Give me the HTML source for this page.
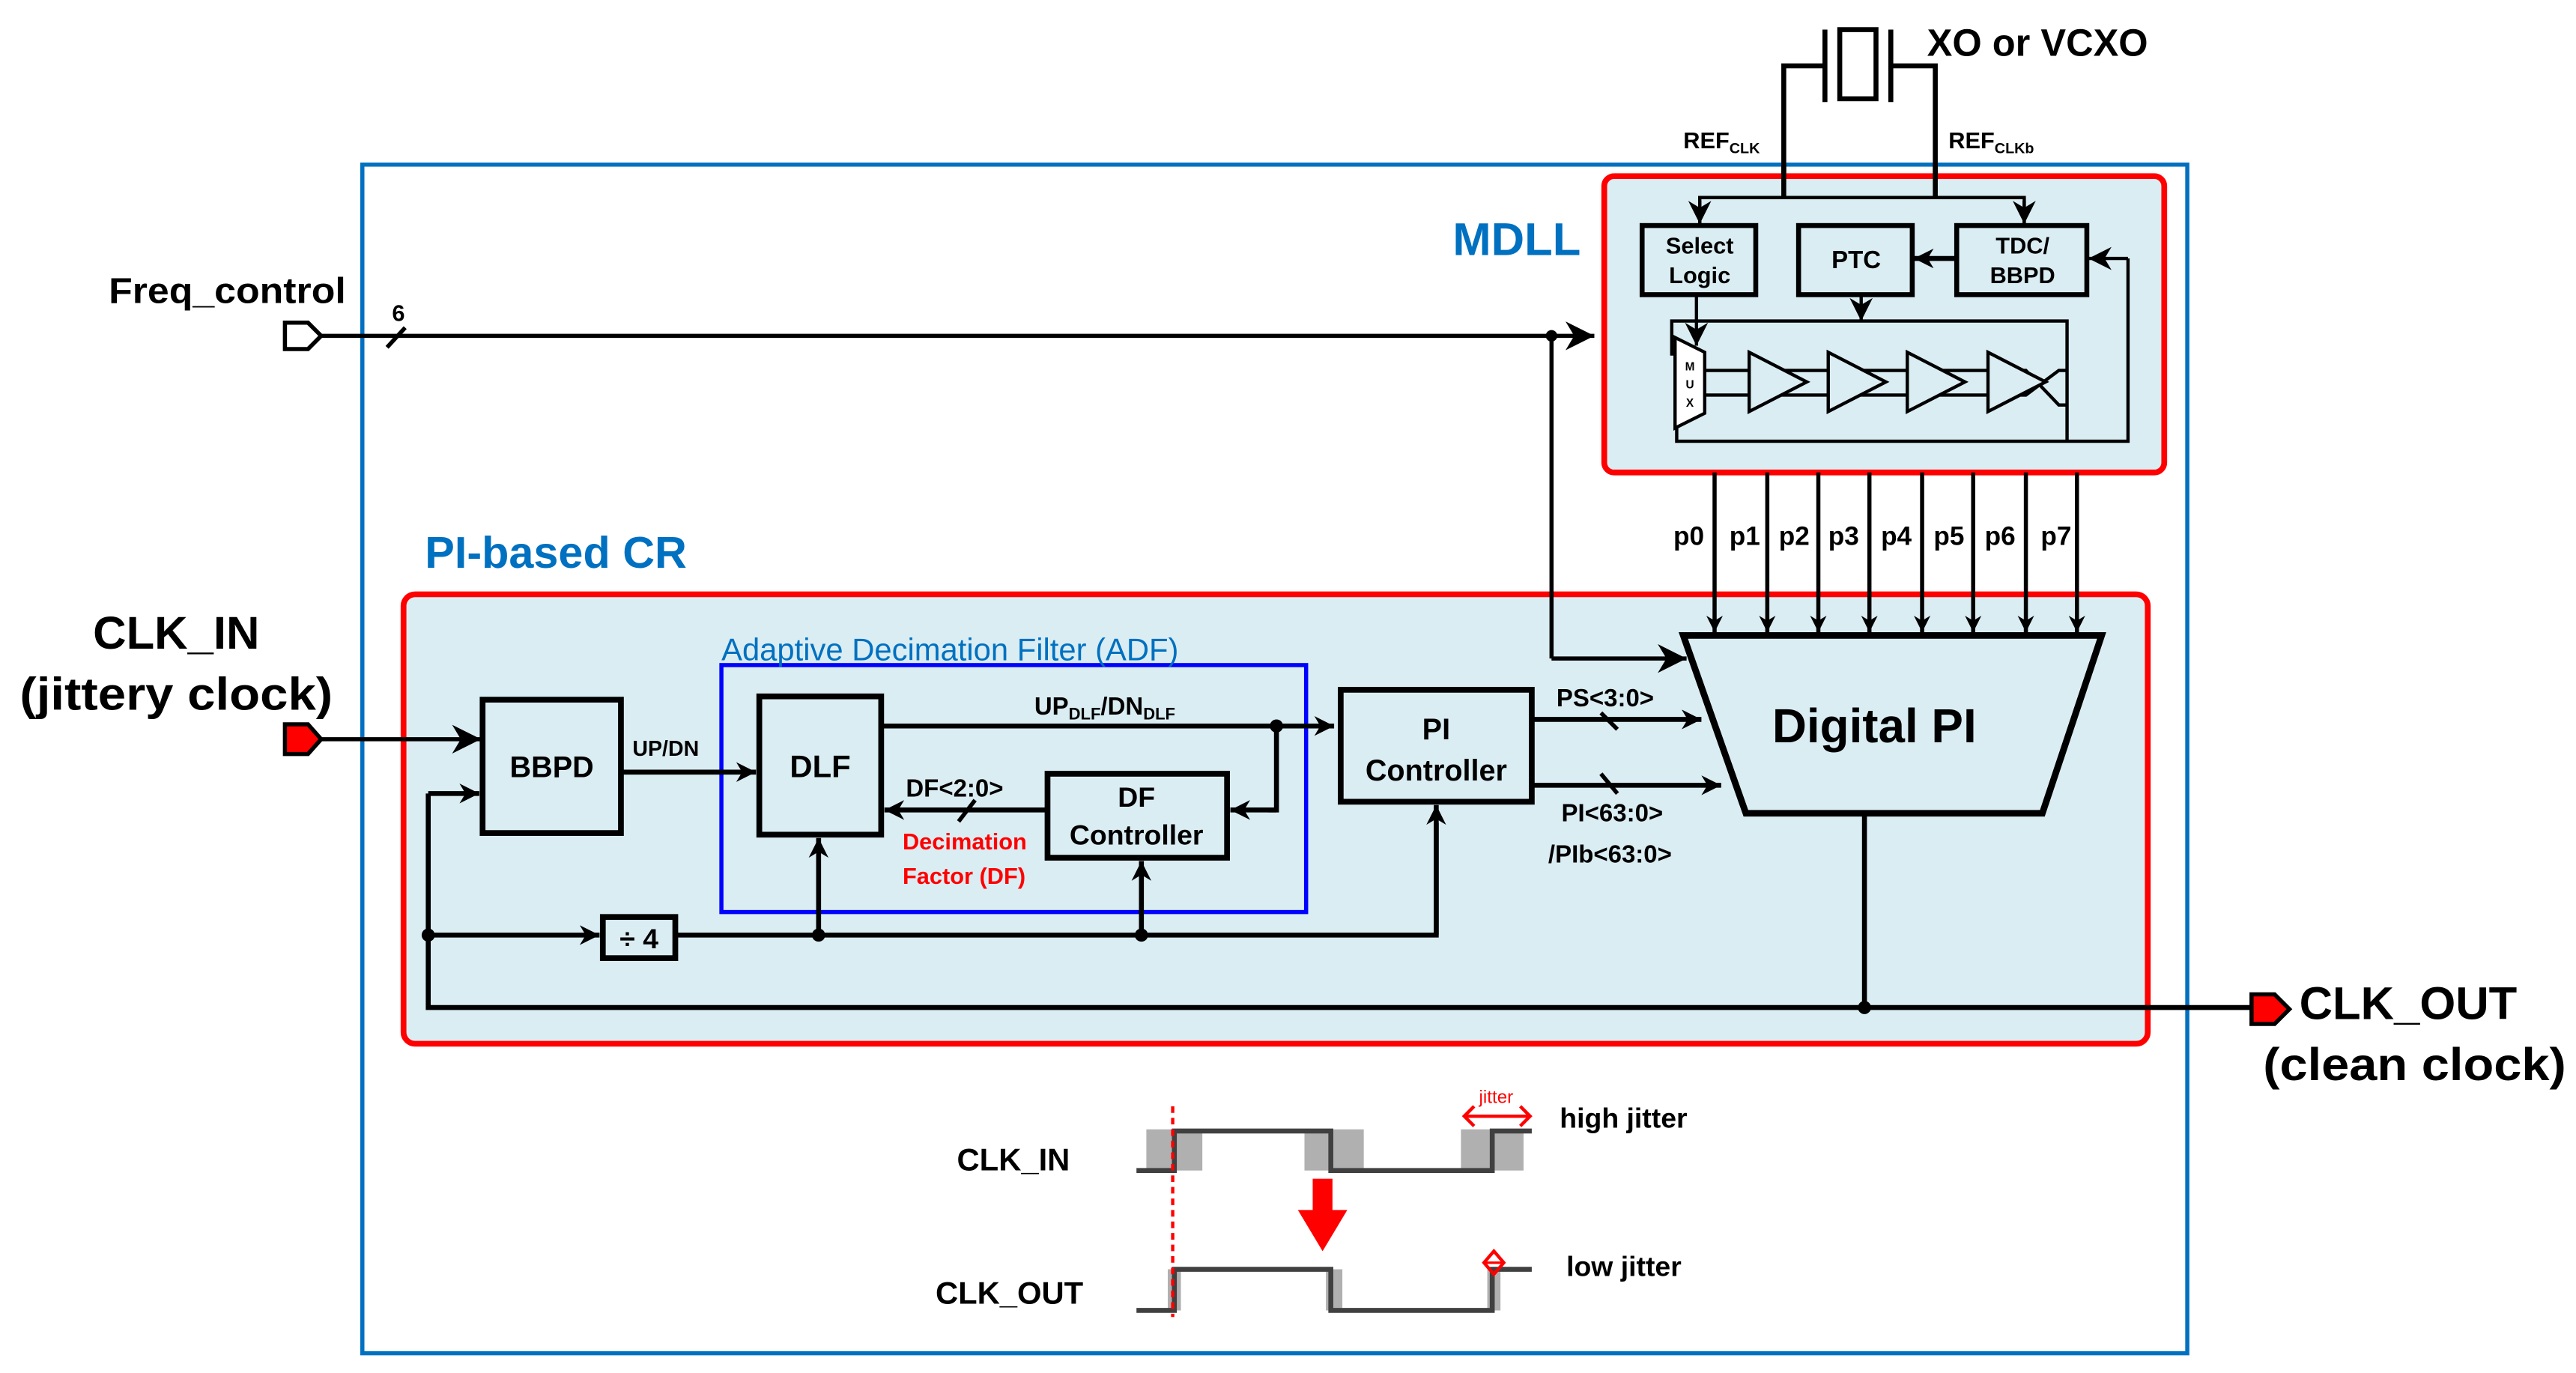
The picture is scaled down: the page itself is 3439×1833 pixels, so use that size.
<!DOCTYPE html>
<html><head><meta charset="utf-8"><style>
html,body{margin:0;padding:0;background:#fff;}
svg{display:block;}
text{font-family:"Liberation Sans",Arial,sans-serif;font-weight:bold;}
</style></head><body>
<svg width="3439" height="1833" viewBox="0 0 1564 834" preserveAspectRatio="none" xmlns="http://www.w3.org/2000/svg">
<defs>
<marker id="a" viewBox="0 0 10 10" refX="10" refY="5" markerWidth="4" markerHeight="4" orient="auto" markerUnits="strokeWidth"><path d="M0,0 L10,5 L0,10 L3,5z" fill="#000"/></marker>
<marker id="b" viewBox="0 0 10 10" refX="10" refY="5" markerWidth="7" markerHeight="7" orient="auto" markerUnits="strokeWidth"><path d="M0,0 L10,5 L0,10 L3,5z" fill="#000"/></marker>
</defs>
<!-- outer blue -->
<rect x="220" y="100" width="1108" height="722" fill="none" stroke="#0070c0" stroke-width="2.5"/>
<!-- crystal -->
<g stroke="#000" stroke-width="3" fill="none">
<polyline points="1083,120 1083,40 1108,40"/>
<polyline points="1175,120 1175,40 1148,40"/>
<line x1="1108" y1="18" x2="1108" y2="62"/>
<line x1="1148" y1="18" x2="1148" y2="62"/>
<rect x="1117" y="18" width="22" height="42" fill="#fff"/>
</g>
<text x="1170" y="34" font-size="23">XO or VCXO</text>
<text x="1022" y="90" font-size="14">REF<tspan font-size="9" dy="3">CLK</tspan></text>
<text x="1183" y="90" font-size="14">REF<tspan font-size="9" dy="3">CLKb</tspan></text>
<!-- PI-based CR background -->
<text x="258" y="345" font-size="27" fill="#0070c0">PI-based CR</text>
<rect x="245" y="361" width="1059" height="273" rx="7" fill="#daedf3" stroke="#f00" stroke-width="3.5"/>
<!-- MDLL -->
<rect x="974" y="107" width="340" height="180" rx="6" fill="#daedf3" stroke="#f00" stroke-width="3.5"/>
<text x="882" y="155" font-size="28" fill="#0070c0">MDLL</text>
<g stroke="#000" stroke-width="2" fill="none">
<polyline points="1032,136 1032,120 1229,120 1229,136" />
<line x1="1032" y1="122" x2="1032" y2="136" marker-end="url(#b)"/>
<line x1="1229" y1="122" x2="1229" y2="136" marker-end="url(#b)"/>
<line x1="1083" y1="120" x2="1083" y2="100" stroke-width="3"/>
<line x1="1175" y1="120" x2="1175" y2="100" stroke-width="3"/>
</g>
<g stroke="#000" stroke-width="3" fill="#daedf3">
<rect x="997" y="137" width="69" height="42"/>
<rect x="1092" y="137" width="69" height="42"/>
<rect x="1188" y="137" width="79" height="42"/>
</g>
<text x="1032" y="154" font-size="14" text-anchor="middle">Select</text>
<text x="1032" y="172" font-size="14" text-anchor="middle">Logic</text>
<text x="1127" y="163" font-size="15" text-anchor="middle">PTC</text>
<text x="1228" y="154" font-size="14" text-anchor="middle">TDC/</text>
<text x="1228" y="172" font-size="14" text-anchor="middle">BBPD</text>
<g stroke="#000" stroke-width="2" fill="none">
<line x1="1188" y1="157" x2="1162" y2="157" stroke-width="3" marker-end="url(#a)"/>
<polyline points="1292,157 1292,268 1018,268 1018,247"/>
<line x1="1292" y1="157" x2="1268" y2="157" marker-end="url(#b)"/>
<line x1="1130" y1="179" x2="1130" y2="195" marker-end="url(#b)"/>
<polyline points="1018,215 1015,215 1015,195 1255,195 1255,268"/>
<line x1="1030" y1="179" x2="1030" y2="210" marker-end="url(#b)"/>
<polyline points="1035,225 1230,225 1250,246 1255,246"/>
<polyline points="1035,240 1230,240 1250,225 1255,225"/>
</g>
<polygon points="1017,205 1035,214 1035,251 1017,260" fill="#fff" stroke="#000" stroke-width="2"/>
<text x="1026" y="225" font-size="7" text-anchor="middle">M</text>
<text x="1026" y="236" font-size="7" text-anchor="middle">U</text>
<text x="1026" y="247" font-size="7" text-anchor="middle">X</text>
<g stroke="#000" stroke-width="2" fill="#daedf3">
<polygon points="1062,214 1097,232 1062,250"/>
<polygon points="1110,214 1145,232 1110,250"/>
<polygon points="1158,214 1193,232 1158,250"/>
<polygon points="1207,214 1242,232 1207,250"/>
</g>
<!-- freq control -->
<text x="66" y="184" font-size="22" textLength="144" lengthAdjust="spacingAndGlyphs">Freq_control</text>
<path d="M173,196 L187,196 L195,204 L187,212 L173,212z" fill="#fff" stroke="#000" stroke-width="2.5"/>
<line x1="195" y1="204" x2="968" y2="204" stroke="#000" stroke-width="2.5" marker-end="url(#b)"/>
<line x1="235" y1="211" x2="246" y2="199" stroke="#000" stroke-width="2.5"/>
<text x="238" y="195" font-size="14">6</text>
<circle cx="942" cy="204" r="3.5"/>
<polyline points="942,204 942,400" fill="none" stroke="#000" stroke-width="2.5"/>
<line x1="942" y1="400" x2="1024" y2="400" stroke="#000" stroke-width="2.5" marker-end="url(#b)"/>
<!-- p lines -->
<g stroke="#000" stroke-width="2.5">
<line x1="1041" y1="287" x2="1041" y2="384" marker-end="url(#a)"/>
<line x1="1073" y1="287" x2="1073" y2="384" marker-end="url(#a)"/>
<line x1="1104" y1="287" x2="1104" y2="384" marker-end="url(#a)"/>
<line x1="1135" y1="287" x2="1135" y2="384" marker-end="url(#a)"/>
<line x1="1167" y1="287" x2="1167" y2="384" marker-end="url(#a)"/>
<line x1="1198" y1="287" x2="1198" y2="384" marker-end="url(#a)"/>
<line x1="1230" y1="287" x2="1230" y2="384" marker-end="url(#a)"/>
<line x1="1261" y1="287" x2="1261" y2="384" marker-end="url(#a)"/>
</g>
<g font-size="16">
<text x="1016" y="331">p0</text><text x="1050" y="331">p1</text><text x="1080" y="331">p2</text><text x="1110" y="331">p3</text>
<text x="1142" y="331">p4</text><text x="1174" y="331">p5</text><text x="1205" y="331">p6</text><text x="1239" y="331">p7</text>
</g>
<rect x="438" y="404" width="355" height="150" fill="none" stroke="#0000ff" stroke-width="2.5"/>
<text x="438" y="401" font-size="19" fill="#0070c0" style="font-weight:normal">Adaptive Decimation Filter (ADF)</text>
<!-- Digital PI -->
<polygon points="1022,386 1276,386 1240,494 1060,494" fill="#daedf3" stroke="#000" stroke-width="4"/>
<text x="1138" y="451" font-size="29" text-anchor="middle">Digital PI</text>
<!-- CLK IN -->
<text x="107" y="394" font-size="28" text-anchor="middle">CLK_IN</text>
<text x="107" y="431" font-size="28" text-anchor="middle" textLength="190" lengthAdjust="spacingAndGlyphs">(jittery clock)</text>
<path d="M173,440 L187,440 L195,449 L187,458 L173,458z" fill="#f00" stroke="#000" stroke-width="2.5"/>
<line x1="195" y1="449" x2="292" y2="449" stroke="#000" stroke-width="2.5" marker-end="url(#b)"/>
<!-- boxes -->
<g stroke="#000" stroke-width="3.5" fill="#daedf3">
<rect x="293" y="425" width="84" height="81"/>
<rect x="461" y="423" width="74" height="84"/>
<rect x="636" y="470" width="109" height="51"/>
<rect x="814" y="419" width="116" height="68"/>
<rect x="366" y="557" width="44" height="25"/>
</g>
<text x="335" y="472" font-size="18" text-anchor="middle">BBPD</text>
<text x="498" y="472" font-size="19" text-anchor="middle">DLF</text>
<text x="690" y="490" font-size="17" text-anchor="middle">DF</text>
<text x="690" y="513" font-size="17" text-anchor="middle">Controller</text>
<text x="872" y="449" font-size="18" text-anchor="middle">PI</text>
<text x="872" y="474" font-size="18" text-anchor="middle">Controller</text>
<text x="388" y="576" font-size="17" text-anchor="middle">÷ 4</text>
<g stroke="#000" stroke-width="3" fill="none">
<line x1="377" y1="469" x2="459" y2="469" marker-end="url(#a)"/>
<line x1="535" y1="441" x2="810" y2="441" marker-end="url(#a)"/>
<polyline points="775,441 775,492 770,492"/>
<line x1="775" y1="492" x2="747" y2="492" marker-end="url(#a)"/>
<line x1="636" y1="492" x2="537" y2="492" marker-end="url(#a)"/>
<line x1="930" y1="437" x2="1033" y2="437" marker-end="url(#a)"/>
<line x1="930" y1="477" x2="1045" y2="477" marker-end="url(#a)"/>
<line x1="260" y1="568" x2="364" y2="568" marker-end="url(#a)"/>
<polyline points="410,568 872,568 872,500"/>
<line x1="872" y1="568" x2="872" y2="489" marker-end="url(#a)"/>
<line x1="497" y1="568" x2="497" y2="509" marker-end="url(#a)"/>
<line x1="693" y1="568" x2="693" y2="523" marker-end="url(#a)"/>
<polyline points="1367,612 260,612 260,482"/>
<line x1="260" y1="482" x2="291" y2="482" marker-end="url(#a)"/>
<line x1="1132" y1="494" x2="1132" y2="612"/>
</g>
<g stroke="#000" stroke-width="2.5">
<line x1="582" y1="499" x2="592" y2="486"/>
<line x1="972" y1="433" x2="982" y2="443"/>
<line x1="972" y1="470" x2="982" y2="482"/>
</g>
<g fill="#000"><circle cx="775" cy="441" r="4"/><circle cx="260" cy="568" r="4"/><circle cx="497" cy="568" r="4"/><circle cx="693" cy="568" r="4"/><circle cx="1132" cy="612" r="4"/></g>
<g font-size="15">
<text x="384" y="459" font-size="13">UP/DN</text>
<text x="628" y="434">UP<tspan font-size="10" dy="3">DLF</tspan><tspan dy="-3">/DN</tspan><tspan font-size="10" dy="3">DLF</tspan></text>
<text x="550" y="484">DF&lt;2:0&gt;</text>
<text x="945" y="429">PS&lt;3:0&gt;</text>
<text x="948" y="499">PI&lt;63:0&gt;</text>
<text x="940" y="524">/PIb&lt;63:0&gt;</text>
</g>
<text x="548" y="516" font-size="14" fill="#f00">Decimation</text>
<text x="548" y="537" font-size="14" fill="#f00">Factor (DF)</text>
<!-- CLK OUT -->
<path d="M1367,604 L1381,604 L1390,613 L1381,622 L1367,622z" fill="#f00" stroke="#000" stroke-width="2.5"/>
<text x="1396" y="619" font-size="28">CLK_OUT</text>
<text x="1466" y="656" font-size="28" text-anchor="middle" textLength="184" lengthAdjust="spacingAndGlyphs">(clean clock)</text>
<!-- waveforms -->
<g fill="#b0b0b0">
<rect x="696" y="686" width="34" height="25"/><rect x="792" y="686" width="36" height="25"/><rect x="887" y="686" width="38" height="25"/>
<rect x="709" y="771" width="8" height="25"/><rect x="805" y="771" width="10" height="25"/><rect x="903" y="771" width="8" height="25"/>
</g>
<g stroke="#404040" stroke-width="3" fill="none">
<polyline points="690,711 713,711 713,687 808,687 808,711 906,711 906,687 930,687"/>
<polyline points="690,796 713,796 713,771 808,771 808,796 906,796 906,771 930,771"/>
</g>
<line x1="712" y1="672" x2="712" y2="800" stroke="#f00" stroke-width="2" stroke-dasharray="4,3"/>
<rect x="797" y="716" width="12" height="20" fill="#f00"/>
<polygon points="788,735 818,735 803,760" fill="#f00"/>
<line x1="889" y1="678" x2="929" y2="678" stroke="#f00" stroke-width="2"/>
<polyline points="895,672 889,678 895,684" fill="none" stroke="#f00" stroke-width="2"/>
<polyline points="923,672 929,678 923,684" fill="none" stroke="#f00" stroke-width="2"/>
<text x="898" y="670" font-size="11" fill="#f00" style="font-weight:normal">jitter</text>
<polygon points="907,760 913,767 907,774 901,767" fill="none" stroke="#f00" stroke-width="2"/>
<line x1="901" y1="767" x2="913" y2="767" stroke="#f00" stroke-width="1.5"/>
<text x="581" y="711" font-size="19">CLK_IN</text>
<text x="568" y="792" font-size="19">CLK_OUT</text>
<text x="947" y="685" font-size="17">high jitter</text>
<text x="951" y="775" font-size="17">low jitter</text>
</svg>
</body></html>
